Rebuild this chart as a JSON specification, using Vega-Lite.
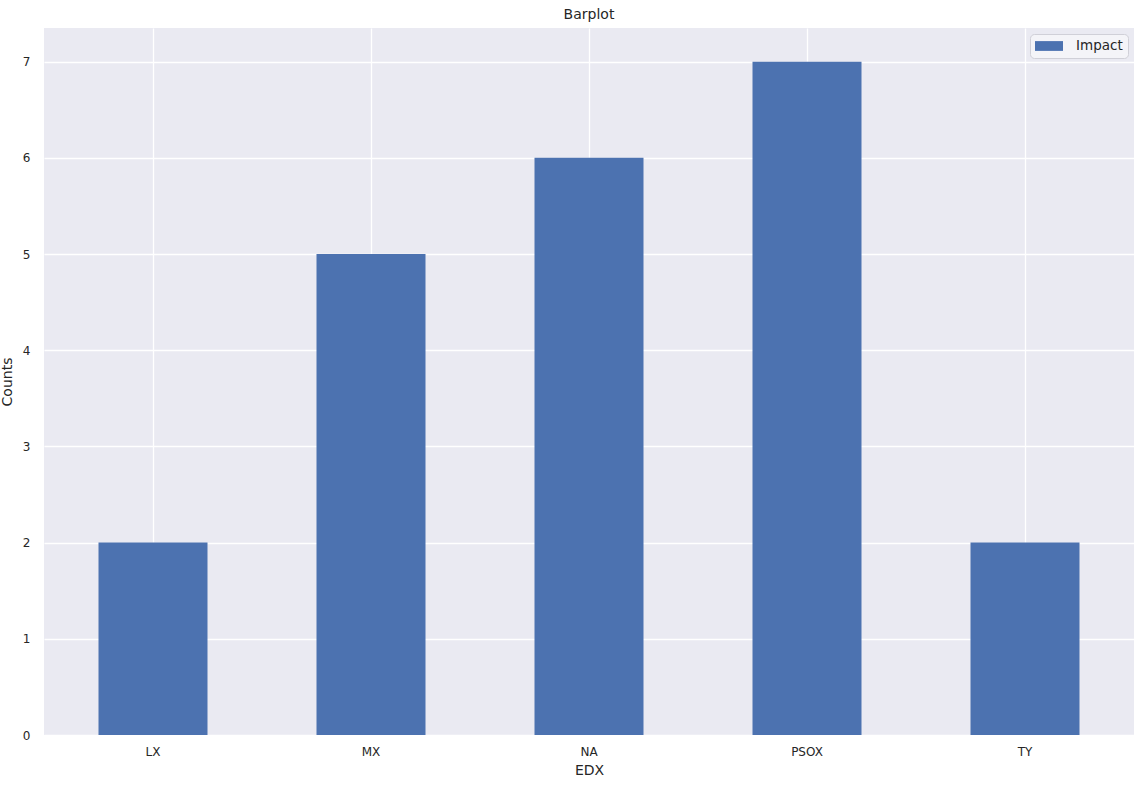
{
  "$schema": "https://vega.github.io/schema/vega-lite/v6.json",
  "width": 1090,
  "height": 707,
  "autosize": {"type": "none"},
  "padding": {"left": 44, "top": 28, "right": 2, "bottom": 54},
  "background": "white",
  "title": {"text": "Barplot", "fontSize": 14, "font": "DejaVu Sans", "fontWeight": "normal", "color": "#262626", "offset": 6, "anchor": "middle"},
  "config": {
    "view": {"fill": "#EAEAF2", "stroke": null},
    "font": "DejaVu Sans"
  },
  "data": {"values": [
    {"EDX": "LX", "Counts": 2, "series": "Impact"},
    {"EDX": "MX", "Counts": 5, "series": "Impact"},
    {"EDX": "NA", "Counts": 6, "series": "Impact"},
    {"EDX": "PSOX", "Counts": 7, "series": "Impact"},
    {"EDX": "TY", "Counts": 2, "series": "Impact"}
  ]},
  "mark": {"type": "bar"},
  "encoding": {
    "x": {
      "field": "EDX", "type": "nominal", "sort": null,
      "scale": {"paddingInner": 0.5, "paddingOuter": 0.25},
      "axis": {"title": "EDX", "labelAngle": 0, "domain": false, "ticks": false, "grid": true, "gridColor": "white", "gridWidth": 1.3,
        "labelFontSize": 12, "labelColor": "#262626", "labelPadding": 11,
        "titleFontSize": 14, "titleFontWeight": "normal", "titleColor": "#262626", "titlePadding": 6}
    },
    "y": {
      "field": "Counts", "type": "quantitative",
      "scale": {"domain": [0, 7.35], "nice": false},
      "axis": {"title": "Counts", "values": [0,1,2,3,4,5,6,7], "domain": false, "ticks": false, "grid": true, "gridColor": "white", "gridWidth": 1.3,
        "labelFontSize": 12, "labelColor": "#262626", "labelPadding": 14,
        "titleFontSize": 14, "titleFontWeight": "normal", "titleColor": "#262626", "titlePadding": 8}
    },
    "color": {
      "field": "series", "type": "nominal",
      "scale": {"range": ["#4C72B0"]},
      "legend": {"title": null, "orient": "top-right", "offset": 6,
        "symbolType": "M-1,-0.7H3V0.7H-1Z", "symbolSize": 196, "symbolStrokeWidth": 0,
        "labelFontSize": 13.5, "labelColor": "#262626", "labelOffset": 27,
        "fillColor": "#F4F4F8", "strokeColor": "#D0D0D8", "cornerRadius": 4, "padding": 5}
    }
  }
}
